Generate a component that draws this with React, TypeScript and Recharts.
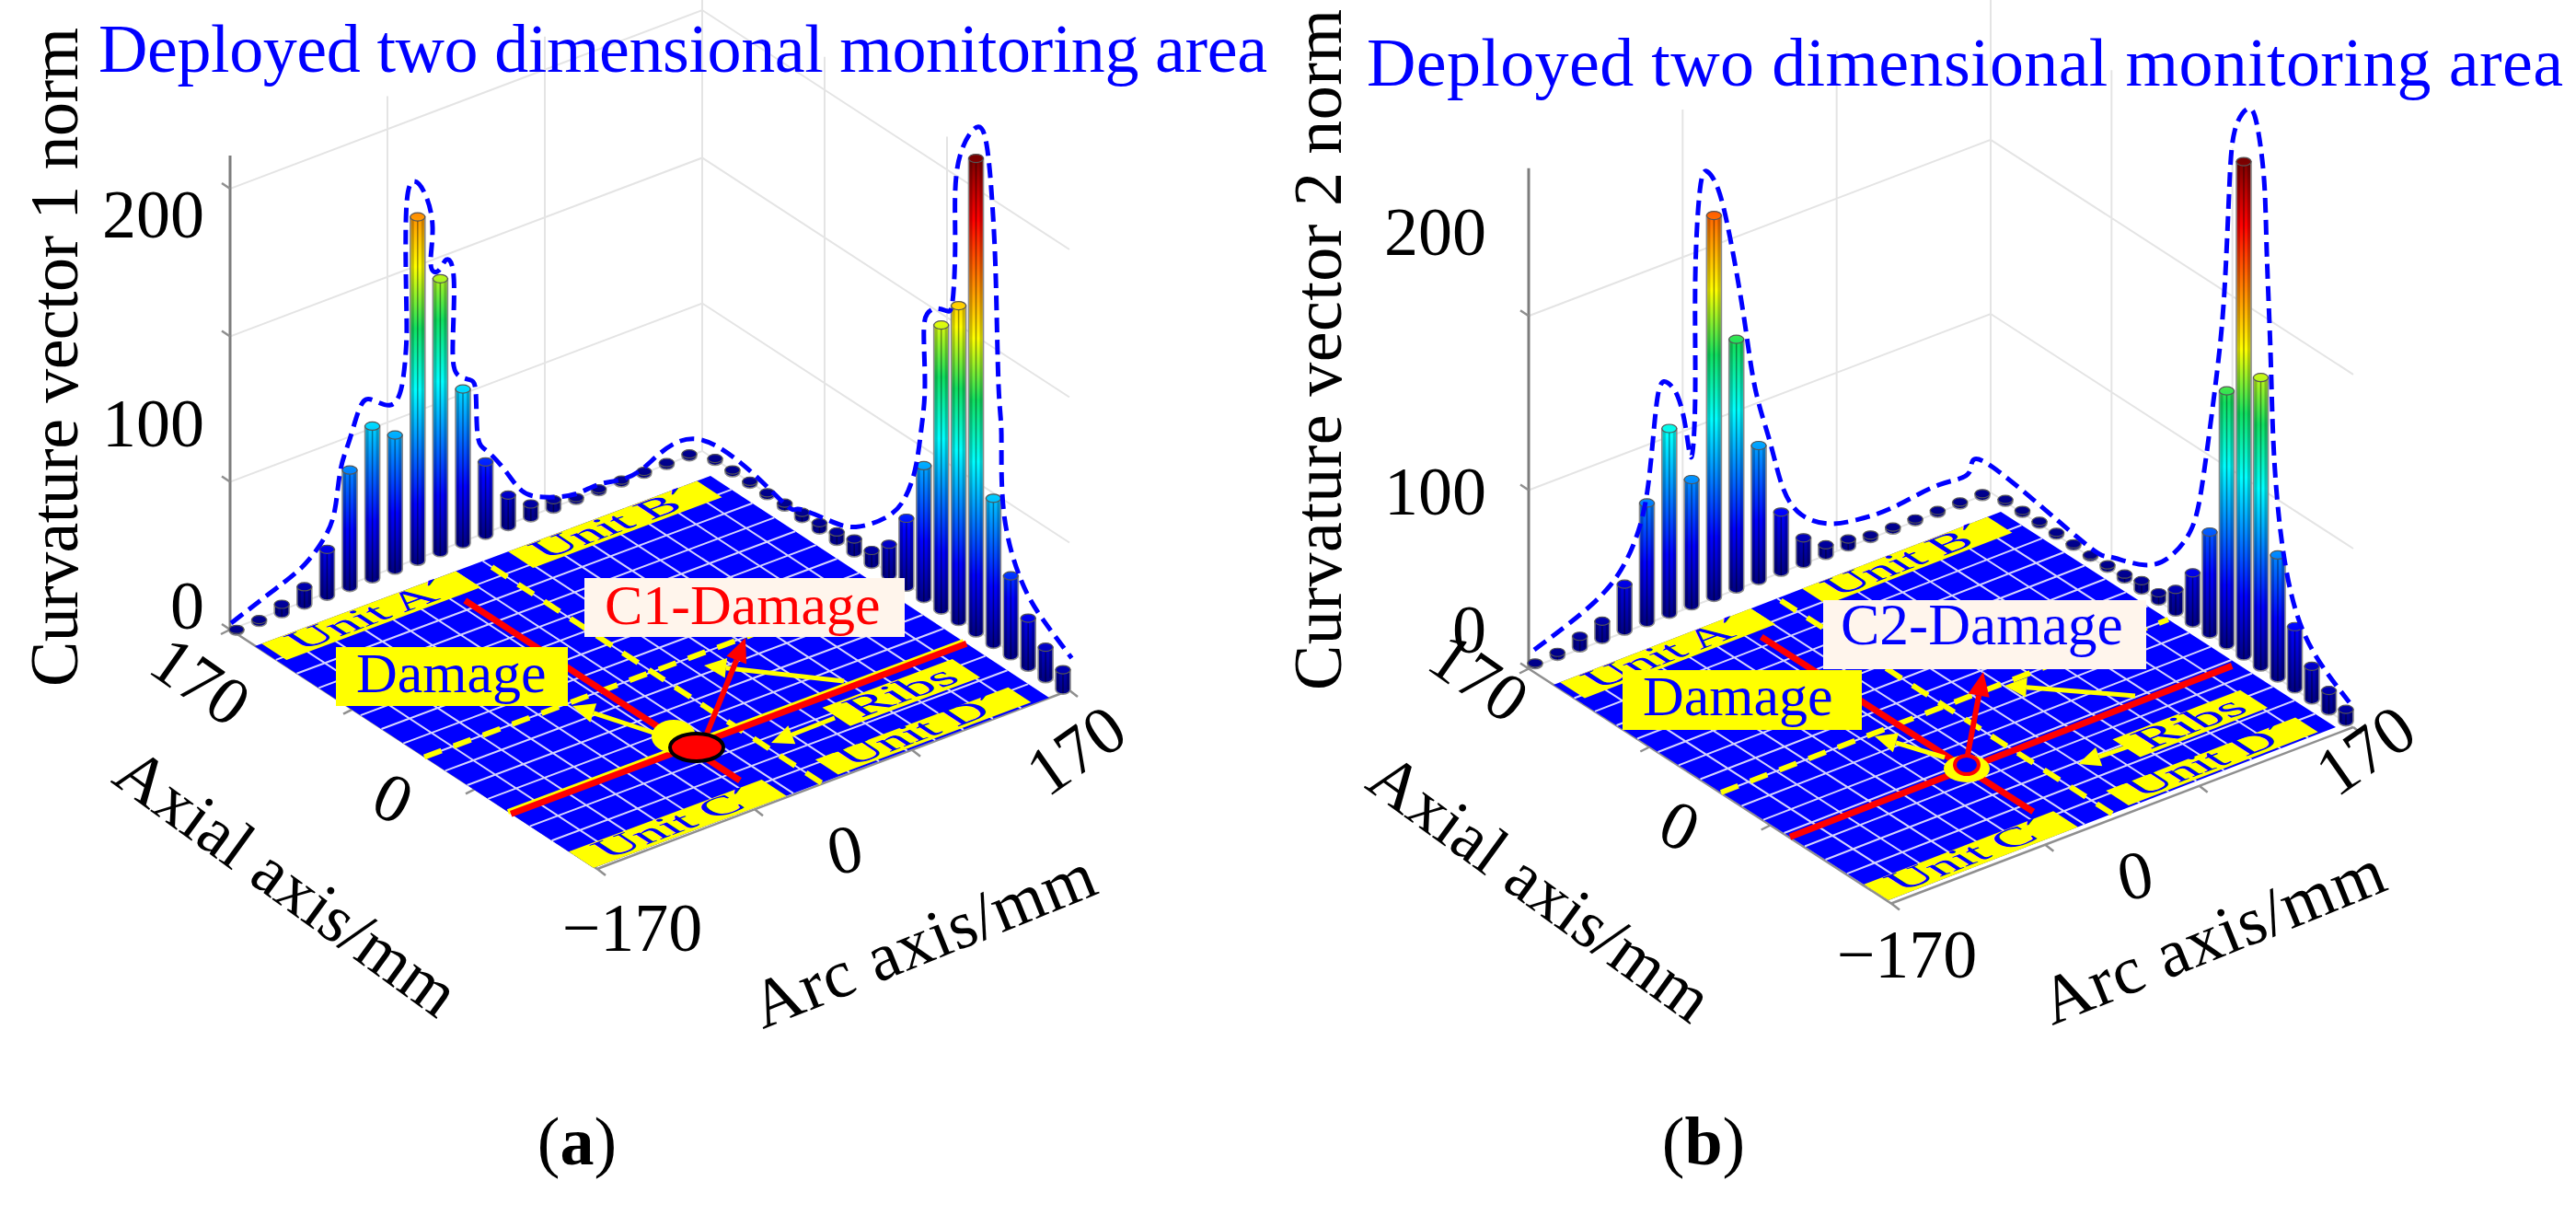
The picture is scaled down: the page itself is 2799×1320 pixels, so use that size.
import React from "react";
import { Area, Bar, ComposedChart, Line, XAxis, YAxis } from "recharts";

const WIDTH = 2799;
const HEIGHT = 1320;
const Z_PX = 2.395; // picture pixels per unit of curvature norm
const COLUMN_W = 16;

// column heights, 21 per row
const axialRowA = [0.5, 1, 4, 8, 21, 53, 69, 61, 156, 124, 70, 33, 14, 6, 4, 1, 1, 1, 1, 1, 1];
const arcRowA = [1, 1, 1, 1, 1.5, 2.5, 3, 4, 6, 6, 14, 31, 60, 129, 143, 215, 66, 36, 22, 14, 9];
const axialRowB = [0.5, 1.5, 5, 8, 21, 54, 84, 57, 173, 113, 61, 27, 11.5, 4.5, 3.3, 1.3, 1.1, 1, 1, 1, 1];
const arcRowB = [1, 1, 1, 1, 0.8, 0.7, 1.2, 2, 4, 3.5, 10, 22.5, 46, 115, 224, 131, 55.5, 28, 15, 9, 5.4];

// dashed outline: [column index along the row, height]
const outlineAxialA = [[-0.24, 4.3], [1.7, 12], [3, 18], [3.9, 27], [4.35, 38], [4.6, 55], [5, 67], [5.5, 80.5], [6.05, 80.5], [6.8, 75.4], [7.3, 82], [7.5, 100.6], [7.5, 120], [7.5, 161.6], [7.85, 172.7], [8.33, 165], [8.66, 148.6], [8.58, 132], [8.94, 128], [9.27, 131.6], [9.6, 121.5], [9.55, 91], [9.76, 77.5], [10.3, 73], [10.57, 66], [10.65, 46.5], [11.06, 37.7], [11.83, 26.3], [12.6, 13.6], [13.54, 7], [14.92, 2.8], [16.18, 2.8], [17.89, 2.3], [20.53, 5.3]];
const outlineArcA = [[3.7, 1.9], [4.76, 2.8], [6.5, 6.8], [8.1, 12], [9.84, 25.4], [10.85, 38.6], [11.5, 55.7], [11.85, 75.5], [12.06, 96], [12, 119.7], [12.2, 130], [12.7, 135], [13.3, 137], [13.65, 143], [13.8, 168], [13.8, 193], [14.18, 214.5], [15.13, 230], [15.66, 222], [15.93, 200], [16.14, 166], [16.3, 118], [16.46, 97], [16.6, 62.6], [17.6, 37], [18.84, 25.8], [20.5, 16.8]];
const outlineAxialB = [[-0.04, 6.6], [1.6, 13], [3.37, 23], [4.49, 39.5], [5.02, 59.5], [5.31, 86], [5.56, 104], [5.93, 105], [6.38, 97], [6.75, 80.5], [7, 67.4], [7.16, 95.6], [7.16, 147], [7.37, 187], [7.7, 194], [8.19, 184], [8.72, 160], [9.34, 121.5], [9.84, 87.5], [10.5, 60.8], [11.07, 38], [11.9, 22.4], [13.13, 13.6], [14.36, 10.6], [16, 10], [18.07, 12.4], [19.42, 13], [20.3, 13]];
const outlineArcB = [[4.38, 4.7], [6.16, 5.6], [8.16, 11.9], [9.78, 24.5], [10.97, 43], [11.57, 66], [12.05, 95.5], [12.49, 125], [12.86, 159], [13.14, 206], [13.46, 235], [14.22, 249], [14.76, 245], [15.19, 222], [15.35, 190], [15.57, 145.6], [15.73, 106.8], [16.1, 70.6], [16.8, 41.5], [18.05, 22.3], [20.2, 9.6]];

// floor grid and rib positions in mm
const floorGridMm = [-149, -128, -106, -85, -64, -43, -21, 0, 21, 43, 64, 85, 106, 128, 149];
const unitBands = [
  { label: "Unit A´", a0: -165, a1: -20, b0: 145, b1: 170 },
  { label: "Unit B´", a0: 19, a1: 160, b0: 145, b1: 170 },
  { label: "Unit C´", a0: -170, a1: -26, b0: -170, b1: -145 },
  { label: "Unit D´", a0: 14, a1: 158, b0: -168, b1: -145 },
  { label: "Ribs", a0: 55, a1: 152, b0: -125, b1: -97 },
];

const panelA = {
  id: "a",
  caption: "a",
  captionX: 627,
  yTitle: "Curvature vector 1 norm",
  yTitleX: 84, yTitleBottom: 746, yTitleLen: 716,
  titleX: 107, titleY: 78, titleLen: 1270,
  axialRow: axialRowA, arcRow: arcRowA,
  outlineAxial: outlineAxialA, outlineArc: outlineArcA,
  zMax: 215, zTop: 215, zTicks: [0, 67, 133, 200],
  left: { x0: 257, y0: 685, dx: 24.6, dy: -9.47 },
  right: { x0: 777, y0: 500.5, dx: 18.9, dy: 12.43 },
  boxL: [250, 684], boxB: [763, 490], boxR: [1162, 750],
  plateL: [277, 702], plateF: [645, 943], plateR: [1140, 758],
  ribAxial: -87, ribArc: -37, ribHalo: true, ribAxialEnd: 170,
  zLabels: [["200", 222, 258], ["100", 222, 485], ["0", 222, 683]],
  tickLabels: [["170", 218, 740, 35], ["0", 427, 867, 25], ["−170", 687, 1008, 0], ["0", 918, 923, -12], ["170", 1169, 815, -35]],
  axialTitle: [312, 958, 36, 440], arcTitle: [1003, 1021, -22, 396],
  damageBox: [365, 703, 252, 64, 387, 752],
  noteBox: [635, 628, 348, 64, 657, 678, "C1-Damage", "#ff0000", 62],
  spotBack: [732, 800, 24, 18],
  spot: [757, 812, 29, 15, "#ff0000", "#000000"],
  redArrow: [768, 797, 810, 693],
  yellowArrows: [[917, 740, 765, 723], [907, 780, 838, 807], [713, 797, 622, 767]],
};

const panelB = {
  id: "b",
  caption: "b",
  captionX: 1851,
  yTitle: "Curvature vector 2 norm",
  yTitleX: 1457, yTitleBottom: 750, yTitleLen: 740,
  titleX: 1485, titleY: 93, titleLen: 1300,
  axialRow: axialRowB, arcRow: arcRowB,
  outlineAxial: outlineAxialB, outlineArc: outlineArcB,
  zMax: 224, zTop: 227, zTicks: [0, 81, 160],
  left: { x0: 1668, y0: 721.5, dx: 24.3, dy: -9.14 },
  right: { x0: 2179, y0: 545, dx: 18.5, dy: 11.93 },
  boxL: [1661, 726.5], boxB: [2163, 535], boxR: [2557, 790],
  plateL: [1688, 744], plateF: [2052, 978], plateR: [2538, 790],
  ribAxial: -70, ribArc: -36, ribHalo: false, ribAxialEnd: 166,
  zLabels: [["200", 1615, 277], ["100", 1615, 559], ["0", 1615, 709]],
  tickLabels: [["170", 1607, 736, 35], ["0", 1825, 897, 25], ["−170", 2072, 1037, 0], ["0", 2320, 951, -12], ["170", 2570, 815, -35]],
  axialTitle: [1674, 964, 36, 440], arcTitle: [2404, 1017, -22, 396],
  damageBox: [1763, 728, 260, 65, 1785, 777],
  noteBox: [1981, 652, 351, 75, 2000, 700, "C2-Damage", "#0000ff", 63.5],
  spotBack: [2137, 835, 25, 15],
  spot: [2137, 831, 13, 10, "#0000ff", "#ff0000"],
  redArrow: [2138, 820, 2155, 730],
  yellowArrows: [[2320, 756, 2178, 745], [2330, 805, 2258, 830], [2113, 823, 2037, 800]],
};

const panels = [panelA, panelB];

const jetStops = [
  [0, "#000088"], [0.12, "#0000ff"], [0.36, "#00ffff"], [0.49, "#10e060"],
  [0.62, "#ffff00"], [0.87, "#ff0000"], [1, "#7a0000"],
];

const rowPoint = (row, i, z) => ({ x: row.x0 + row.dx * i, y: row.y0 + row.dy * i - z * Z_PX });

const platePoint = (p, a, b) => {
  const t = (a + 170) / 340;
  const s = (b + 170) / 340;
  return {
    x: p.plateF[0] + t * (p.plateR[0] - p.plateF[0]) + s * (p.plateL[0] - p.plateF[0]),
    y: p.plateF[1] + t * (p.plateR[1] - p.plateF[1]) + s * (p.plateL[1] - p.plateF[1]),
  };
};

// a Line breaks on a null y, so many segments can share one series
const joinSegments = (segments) =>
  segments.flatMap((seg) => [...seg, { x: seg[seg.length - 1].x, y: null }]);

// a convex polygon as the [low, high] data of a range Area
const polygonToRange = (poly) => {
  const xs = [...new Set(poly.map((q) => q.x))].sort((m, n) => m - n);
  return xs.map((x) => {
    const hits = [];
    poly.forEach((q, k) => {
      const r = poly[(k + 1) % poly.length];
      if ((q.x <= x && x <= r.x) || (r.x <= x && x <= q.x)) {
        hits.push(q.x === r.x ? q.y : q.y + ((x - q.x) / (r.x - q.x)) * (r.y - q.y));
      }
    });
    return { x, range: [Math.min(...hits), Math.max(...hits)] };
  });
};

const barData = panels.flatMap((p) =>
  [[p.left, p.axialRow, "l"], [p.right, p.arcRow, "r"]].flatMap(([row, values, side]) =>
    values.map((z, i) => {
      const foot = rowPoint(row, i, 0);
      const head = rowPoint(row, i, z);
      return { key: `${p.id}${side}${i}`, x: foot.x, range: [foot.y, head.y], foot: foot.y, zMax: p.zMax };
    })
  )
);

const lerp = (u, v, t) => ({ x: u[0] + (v[0] - u[0]) * t, y: u[1] + (v[1] - u[1]) * t });

const wallSegments = (p) => {
  const lift = (pt, z) => ({ x: pt.x, y: pt.y - z * Z_PX });
  const L = lerp(p.boxL, p.boxL, 0);
  const B = lerp(p.boxB, p.boxB, 0);
  const R = lerp(p.boxR, p.boxR, 0);
  const rails = p.zTicks.slice(1).map((z) => [lift(L, z), lift(B, z), lift(R, z)]);
  const posts = [
    lerp(p.boxL, p.boxB, 1 / 3), lerp(p.boxL, p.boxB, 2 / 3), B,
    lerp(p.boxB, p.boxR, 1 / 3), lerp(p.boxB, p.boxR, 2 / 3),
  ].map((pt) => [pt, lift(pt, p.zTop)]);
  return joinSegments([...rails, ...posts, [L, B, R]]);
};

const edgeSegments = (p) => {
  const F = { x: p.boxL[0] + p.boxR[0] - p.boxB[0], y: p.boxL[1] + p.boxR[1] - p.boxB[1] };
  const L = lerp(p.boxL, p.boxL, 0);
  const R = lerp(p.boxR, p.boxR, 0);
  const outline = [L, F, R];
  const zMarks = p.zTicks.map((z) => {
    const q = { x: L.x, y: L.y - z * Z_PX };
    return [q, { x: q.x - 9, y: q.y - 6 }];
  });
  const fromLeft = [0, 1 / 3, 2 / 3].map((t) => {
    const q = { x: L.x + (F.x - L.x) * t, y: L.y + (F.y - L.y) * t };
    return [q, { x: q.x - 10, y: q.y + 5 }];
  });
  const fromFront = [0, 1 / 3, 2 / 3, 1].map((t) => {
    const q = { x: F.x + (R.x - F.x) * t, y: F.y + (R.y - F.y) * t };
    return [q, { x: q.x + 9, y: q.y + 7 }];
  });
  return joinSegments([outline, ...zMarks, ...fromLeft, ...fromFront]);
};

const floorSegments = (p) =>
  joinSegments(
    floorGridMm.flatMap((mm) => [
      [platePoint(p, mm, -170), platePoint(p, mm, 170)],
      [platePoint(p, -170, mm), platePoint(p, 170, mm)],
    ])
  );

const outlinePoints = (p) => [
  ...p.outlineAxial.map(([i, z]) => rowPoint(p.left, i, z)),
  ...p.outlineArc.map(([i, z]) => rowPoint(p.right, i, z)),
];

// the library narrows the bars because the columns of all rows share one number axis,
// so only the centre of the rectangle it hands over is used
function Cylinder(props) {
  const { x: barX, y, width: barW, height, payload } = props;
  const width = COLUMN_W;
  const x = barX + barW / 2 - width / 2;
  const top = height < 0 ? y + height : y;
  const h = Math.abs(height);
  const cx = x + width / 2;
  const id = `jet-${payload.key}`;
  const bottom = top + h;
  return (
    <g>
      <defs>
        <linearGradient id={id} gradientUnits="userSpaceOnUse" x1={0} x2={0} y1={payload.foot} y2={payload.foot - payload.zMax * Z_PX}>
          {jetStops.map(([o, c]) => (
            <stop key={o} offset={o} stopColor={c} />
          ))}
        </linearGradient>
      </defs>
      <path
        d={`M${x} ${top}V${bottom}A${width / 2} 5 0 0 0 ${x + width} ${bottom}V${top}Z`}
        fill={`url(#${id})`}
        stroke="#8a8a8a"
        strokeWidth={1.6}
      />
      <rect x={x + 1} y={top} width={3} height={h} fill="#000000" opacity={0.22} />
      <rect x={x + width - 4} y={top} width={3} height={h} fill="#000000" opacity={0.22} />
      <line x1={cx} x2={cx} y1={top + 3} y2={bottom + 4} stroke="#000000" strokeOpacity={0.4} strokeWidth={1.5} />
      <ellipse cx={cx} cy={top} rx={width / 2} ry={4.5} fill={`url(#${id})`} stroke="#555555" strokeWidth={1.2} />
    </g>
  );
}

function Arrow({ line, color, width, head }) {
  const [x1, y1, x2, y2] = line;
  const len = Math.hypot(x2 - x1, y2 - y1);
  const ux = (x2 - x1) / len;
  const uy = (y2 - y1) / len;
  const bx = x2 - ux * head;
  const by = y2 - uy * head;
  const hw = head * 0.45;
  return (
    <g>
      <line x1={x1} y1={y1} x2={bx} y2={by} stroke={color} strokeWidth={width} />
      <polygon points={`${x2},${y2} ${bx - uy * hw},${by + ux * hw} ${bx + uy * hw},${by - ux * hw}`} fill={color} />
    </g>
  );
}

const serif = "'Liberation Serif', 'Times New Roman', serif";

function PanelNotes({ p }) {
  const [rx, ry, rw, rh, tx, ty] = p.damageBox;
  const [nx, ny, nw, nh, ntx, nty, note, noteColor, noteSize] = p.noteBox;
  const fr = { x: p.plateR[0] - p.plateF[0], y: p.plateR[1] - p.plateF[1] };
  const fl = { x: p.plateF[0] - p.plateL[0], y: p.plateF[1] - p.plateL[1] };
  const frLen = Math.hypot(fr.x, fr.y);
  const flLen = Math.hypot(fl.x, fl.y);
  return (
    <g fontFamily={serif}>
      {unitBands.map((band) => {
        const corners = [
          platePoint(p, band.a0, band.b0), platePoint(p, band.a1, band.b0),
          platePoint(p, band.a1, band.b1), platePoint(p, band.a0, band.b1),
        ];
        const at = platePoint(p, (band.a0 + band.a1) / 2, band.b0 + 0.14 * (band.b1 - band.b0));
        const squash = 0.68;
        return (
          <g key={band.label}>
            <polygon points={corners.map((c) => `${c.x},${c.y}`).join(" ")} fill="#ffff00" />
            <text
              transform={`matrix(${fr.x / frLen} ${fr.y / frLen} ${(fl.x / flLen) * squash} ${(fl.y / flLen) * squash} ${at.x} ${at.y})`}
              fontSize={band.label === "Ribs" ? 64 : 60}
              fill="#0000ff"
              textAnchor="middle"
            >
              {band.label}
            </text>
          </g>
        );
      })}

      <ellipse cx={p.spotBack[0]} cy={p.spotBack[1]} rx={p.spotBack[2]} ry={p.spotBack[3]} fill="#ffff00" />
      {p.yellowArrows.map((a, i) => (
        <Arrow key={i} line={a} color="#ffff00" width={5} head={24} />
      ))}
      <Arrow line={p.redArrow} color="#ff0000" width={6} head={26} />
      <ellipse cx={p.spot[0]} cy={p.spot[1]} rx={p.spot[2]} ry={p.spot[3]} fill={p.spot[4]} stroke={p.spot[5]} strokeWidth={4} />

      <rect x={rx} y={ry} width={rw} height={rh} fill="#ffff00" />
      <text x={tx} y={ty} fontSize={62} fill="#0000ff">Damage</text>
      <rect x={nx} y={ny} width={nw} height={nh} fill="#fff5ec" />
      <text x={ntx} y={nty} fontSize={noteSize} fill={noteColor}>{note}</text>

      <text x={p.titleX} y={p.titleY} fontSize={74} fill="#0000ff" textLength={p.titleLen} lengthAdjust="spacing">
        Deployed two dimensional monitoring area
      </text>
      <text
        transform={`translate(${p.yTitleX} ${p.yTitleBottom}) rotate(-90)`}
        fontSize={74}
        fill="#000000"
        textLength={p.yTitleLen}
        lengthAdjust="spacing"
      >
        {p.yTitle}
      </text>
      {p.zLabels.map(([s, x, y]) => (
        <text key={s} x={x} y={y} fontSize={74} textAnchor="end" fill="#000000">{s}</text>
      ))}
      {p.tickLabels.map(([s, x, y, deg], i) => (
        <text key={i} transform={`translate(${x} ${y}) rotate(${deg})`} fontSize={74} textAnchor="middle" dominantBaseline="central" fill="#000000">
          {s}
        </text>
      ))}
      <text transform={`translate(${p.axialTitle[0]} ${p.axialTitle[1]}) rotate(${p.axialTitle[2]})`} fontSize={74} textAnchor="middle" dominantBaseline="central" fill="#000000" textLength={p.axialTitle[3]} lengthAdjust="spacing">
        Axial axis/mm
      </text>
      <text transform={`translate(${p.arcTitle[0]} ${p.arcTitle[1]}) rotate(${p.arcTitle[2]})`} fontSize={74} textAnchor="middle" dominantBaseline="central" fill="#000000" textLength={p.arcTitle[3]} lengthAdjust="spacing">
        Arc axis/mm
      </text>
      <text x={p.captionX} y={1265} fontSize={74} textAnchor="middle" fill="#000000">
        (<tspan fontWeight="bold">{p.caption}</tspan>)
      </text>
    </g>
  );
}

const lineProps = { isAnimationActive: false, dot: false, activeDot: false, legendType: "none", dataKey: "y", connectNulls: false };

export default function App() {
  return (
    <div style={{ position: "absolute", left: 0, top: 0, width: WIDTH, height: HEIGHT, background: "#ffffff" }}>
      <ComposedChart width={WIDTH} height={HEIGHT} data={barData} margin={{ top: 0, right: 0, bottom: 0, left: 0 }}>
        <XAxis dataKey="x" type="number" domain={[0, WIDTH]} allowDataOverflow hide />
        <YAxis type="number" domain={[0, HEIGHT]} allowDataOverflow reversed hide />
        {panels.map((p) => (
          <React.Fragment key={p.id}>
            <Line {...lineProps} data={wallSegments(p)} stroke="#e4e4e4" strokeWidth={2} zIndex={50} />
            <Line {...lineProps} data={joinSegments([[{ x: p.boxL[0], y: p.boxL[1] }, { x: p.boxL[0], y: p.boxL[1] - p.zTop * Z_PX }]])} stroke="#7d7d7d" strokeWidth={3} zIndex={60} />
            <Line {...lineProps} data={edgeSegments(p)} stroke="#8f8f8f" strokeWidth={2.5} zIndex={60} />
            <Area
              dataKey="range"
              data={polygonToRange([
                { x: p.plateL[0], y: p.plateL[1] },
                { x: p.plateF[0], y: p.plateF[1] },
                { x: p.plateR[0], y: p.plateR[1] },
                platePoint(p, 170, 170),
              ])}
              type="linear"
              fill="#0000ff"
              fillOpacity={1}
              stroke="none"
              isAnimationActive={false}
              dot={false}
              activeDot={false}
              legendType="none"
            />
            <Line {...lineProps} data={floorSegments(p)} stroke="#d4d4ff" strokeWidth={2} />
            <Line {...lineProps} data={[platePoint(p, -170, 0), platePoint(p, 170, 0)]} stroke="#ffff00" strokeWidth={6} strokeDasharray="20 14" />
            <Line {...lineProps} data={[platePoint(p, 0, -170), platePoint(p, 0, 170)]} stroke="#ffff00" strokeWidth={6} strokeDasharray="20 14" />
            {p.ribHalo && (
              <Line {...lineProps} data={[platePoint(p, -170, p.ribAxial + 3), platePoint(p, p.ribAxialEnd, p.ribAxial + 3)]} stroke="#ffff00" strokeWidth={6} />
            )}
            <Line {...lineProps} data={[platePoint(p, -170, p.ribAxial), platePoint(p, p.ribAxialEnd, p.ribAxial)]} stroke="#ff0000" strokeWidth={7} />
            <Line {...lineProps} data={[platePoint(p, p.ribArc, -138), platePoint(p, p.ribArc, 138)]} stroke="#ff0000" strokeWidth={7} />
            <Line {...lineProps} data={outlinePoints(p)} type="natural" stroke="#0000ff" strokeWidth={5} strokeDasharray="16 8" zIndex={700} />
          </React.Fragment>
        ))}
        <Bar dataKey="range" barSize={16} isAnimationActive={false} legendType="none" shape={(props) => <Cylinder {...props} />} />
      </ComposedChart>
      <svg width={WIDTH} height={HEIGHT} style={{ position: "absolute", left: 0, top: 0, pointerEvents: "none" }}>
        {panels.map((p) => (
          <PanelNotes key={p.id} p={p} />
        ))}
      </svg>
    </div>
  );
}
